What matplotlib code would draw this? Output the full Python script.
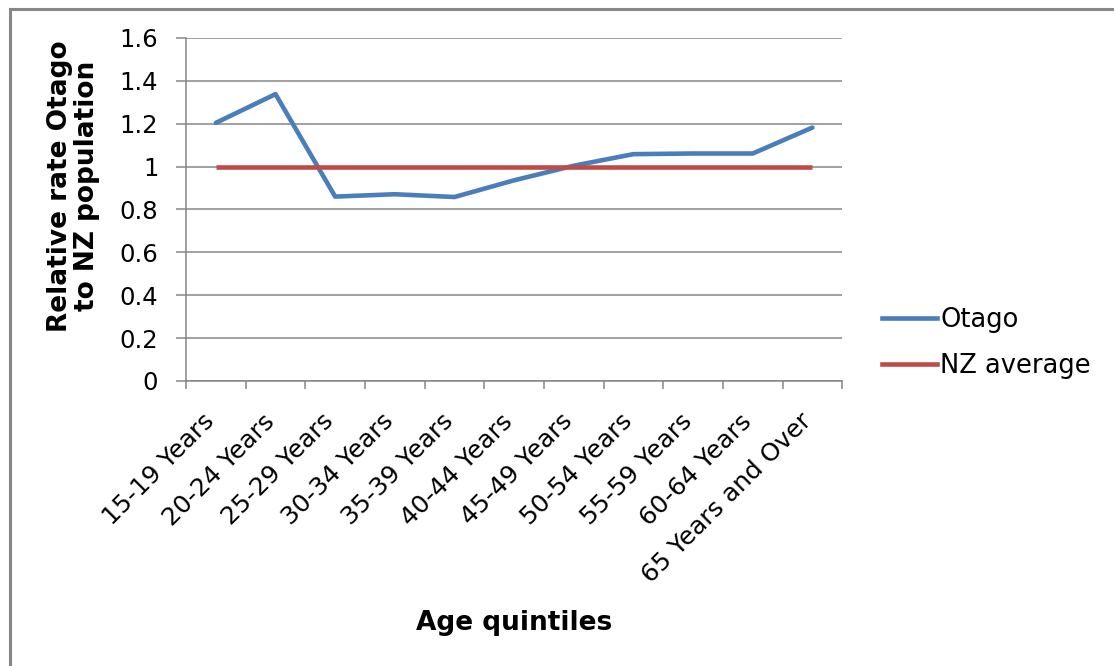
import numpy as np
import matplotlib
matplotlib.use("Agg")
import matplotlib.pyplot as plt
from matplotlib.lines import Line2D

age_groups = ["15-19 Years", "20-24 Years", "25-29 Years", "30-34 Years",
              "35-39 Years", "40-44 Years", "45-49 Years", "50-54 Years",
              "55-59 Years", "60-64 Years", "65 Years and Over"]
otago = [1.204, 1.338, 0.860, 0.871, 0.858, 0.936, 1.004, 1.058, 1.061, 1.061, 1.182]
nz_average = [1.0] * len(age_groups)
y_ticks = [0, 0.2, 0.4, 0.6, 0.8, 1.0, 1.2, 1.4, 1.6]
y_tick_labels = ["0", "0.2", "0.4", "0.6", "0.8", "1", "1.2", "1.4", "1.6"]

GREY = "#868686"
BLUE = "#4A7EBB"
RED = "#BE4B48"

fig = plt.figure(figsize=(11.14, 6.66), dpi=100)
ax = fig.add_axes([0.167, 0.428, 0.589, 0.515])

x = np.arange(len(age_groups))
ax.plot(x, otago, color=BLUE, lw=3.3, solid_capstyle="round", zorder=3)
ax.plot(x, nz_average, color=RED, lw=3.3, solid_capstyle="butt", zorder=3)

ax.set_xlim(-0.5, len(age_groups) - 0.5)
ax.set_ylim(0, 1.6)
ax.set_yticks(y_ticks)
ax.set_yticklabels(y_tick_labels, fontsize=17.5)
ax.yaxis.grid(True, color=GREY, lw=1.1)
ax.set_axisbelow(True)

# labels end under the category centres, tick marks between categories
ax.set_xticks(x)
ax.set_xticklabels(age_groups, rotation=45, ha="right", va="baseline",
                   rotation_mode="anchor", fontsize=18)
ax.set_xticks(np.arange(len(age_groups) + 1) - 0.5, minor=True)
ax.tick_params(axis="x", which="major", length=0, pad=30)
ax.tick_params(axis="x", which="minor", length=6, color=GREY, width=1.1)
ax.tick_params(axis="y", length=7, color=GREY, width=1.1, pad=13)

for side in ("top", "right"):
    ax.spines[side].set_visible(False)
for side in ("left", "bottom"):
    ax.spines[side].set_color(GREY)
    ax.spines[side].set_linewidth(1.1)

ax.set_ylabel("Relative rate Otago\nto NZ population", fontsize=19, fontweight="bold",
              linespacing=1.05)
ax.yaxis.set_label_coords(-0.131, 0.568)
ax.set_xlabel("Age quintiles", fontsize=19, fontweight="bold")
ax.xaxis.set_label_coords(0.5, -0.668)

handles = [Line2D([], [], color=BLUE, lw=3.3),
           Line2D([], [], color=RED, lw=3.3)]
fig.legend(handles, ["Otago", "NZ average"], loc="center left",
           bbox_to_anchor=(0.7917, 0.485), frameon=False, fontsize=18.5,
           borderpad=0, borderaxespad=0,
           handlelength=2.14, handletextpad=0.12, labelspacing=0.8)

# chart border
fig.add_artist(Line2D([0.0094, 0.0094], [0.0, 0.9872], color=GREY, lw=2.2,
                      transform=fig.transFigure))
fig.add_artist(Line2D([0.0094, 1.0], [0.9872, 0.9872], color=GREY, lw=2.2,
                      transform=fig.transFigure))

fig.savefig("out.png", dpi=100)
plt.close(fig)
